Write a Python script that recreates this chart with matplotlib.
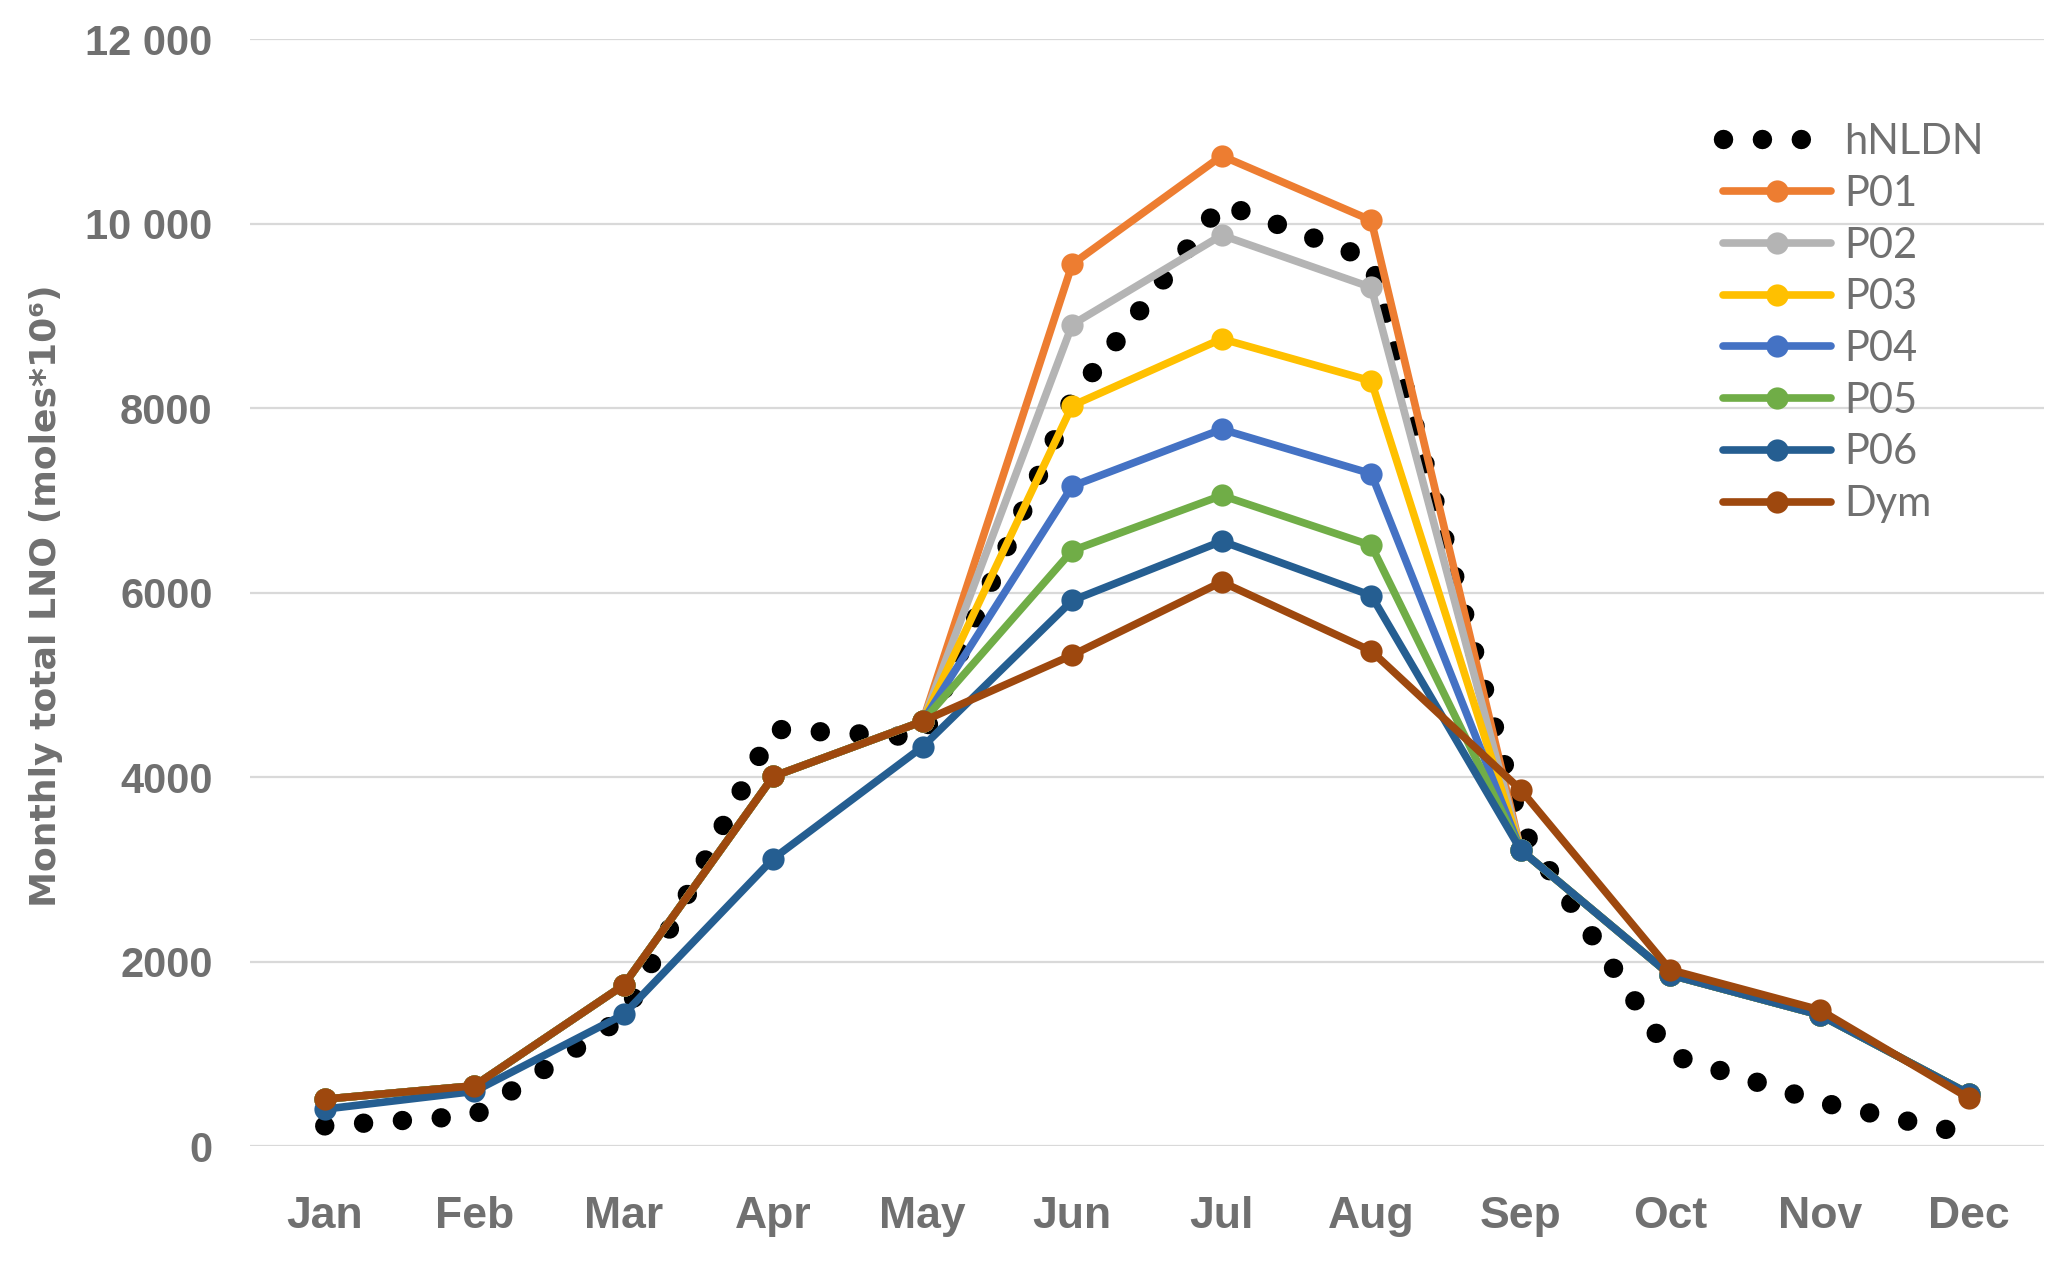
import matplotlib
matplotlib.use("Agg")
import matplotlib.pyplot as plt
from matplotlib import font_manager as fm

months = ['Jan', 'Feb', 'Mar', 'Apr', 'May', 'Jun', 'Jul', 'Aug', 'Sep', 'Oct', 'Nov', 'Dec']
hNLDN = [218, 330, 1400, 4520, 4430, 8100, 10220, 9610, 3460, 990, 476, 125]
P01 = [508, 653, 1745, 4007, 4605, 9562, 10736, 10037, 3210, 1855, 1421, 564]
P02 = [508, 653, 1745, 4007, 4605, 8907, 9876, 9310, 3210, 1855, 1421, 564]
P03 = [508, 653, 1745, 4007, 4605, 8028, 8752, 8295, 3210, 1855, 1421, 564]
P04 = [508, 653, 1745, 4007, 4605, 7155, 7771, 7290, 3210, 1855, 1421, 564]
P05 = [508, 653, 1745, 4007, 4605, 6456, 7054, 6512, 3210, 1855, 1421, 564]
P06 = [400, 592, 1427, 3116, 4330, 5915, 6558, 5969, 3210, 1855, 1421, 564]
Dym = [508, 653, 1745, 4007, 4605, 5323, 6116, 5368, 3862, 1910, 1476, 517]

yticks = [0, 2000, 4000, 6000, 8000, 10000, 12000]
ytick_labels = ['0', '2000', '4000', '6000', '8000', '10 000', '12 000']

series = [('P01', P01, '#ED7D31'), ('P02', P02, '#B4B4B4'), ('P03', P03, '#FFC000'),
          ('P04', P04, '#4472C4'), ('P05', P05, '#70AD47'), ('P06', P06, '#255E91'),
          ('Dym', Dym, '#9E480E')]

installed = {f.name for f in fm.fontManager.ttflist}
tick_font = 'Liberation Sans Narrow' if 'Liberation Sans Narrow' in installed else 'Liberation Sans'
legend_font = 'Lato' if 'Lato' in installed else 'DejaVu Sans'
text_gray = '#707070'

W, H = 2067, 1270
fig = plt.figure(figsize=(W / 100, H / 100), dpi=100)
left, right, top, bottom = 250, 2044, 39.3, 1146
ax = fig.add_axes([left / W, 1 - bottom / H, (right - left) / W, (bottom - top) / H])

x = list(range(len(months)))
ax.plot(x, hNLDN, color='black', lw=14, linestyle=(0, (0.001, 2.0)),
        dash_capstyle='round', label='hNLDN', zorder=2)
for name, vals, col in series:
    ax.plot(x, vals, color=col, lw=5.5, marker='o', markersize=16,
            markeredgewidth=0, label=name, zorder=3, solid_capstyle='round',
            solid_joinstyle='round')

ax.set_xlim(-0.5, 11.5)
ax.set_ylim(0, 12000)
ax.set_yticks(yticks)
ax.set_yticklabels(ytick_labels)
ax.set_xticks(x)
ax.set_xticklabels(months)
for s in ax.spines.values():
    s.set_visible(False)
ax.yaxis.grid(True, color='#d9d9d9', lw=1.6)
ax.set_axisbelow(True)
ax.tick_params(axis='both', length=0)
ax.tick_params(axis='y', pad=27)
ax.tick_params(axis='x', pad=36)
for lab in ax.get_yticklabels():
    lab.set_fontfamily(tick_font); lab.set_fontweight('bold'); lab.set_fontsize(30); lab.set_color(text_gray)
for lab in ax.get_xticklabels():
    lab.set_fontfamily(tick_font); lab.set_fontweight('bold'); lab.set_fontsize(32); lab.set_color(text_gray)

fig.text(46 / W, 1 - 596 / H, 'Monthly total LNO (moles*10\u2076)', rotation=90,
         ha='center', va='center', fontsize=26, fontweight='bold',
         family='DejaVu Sans', color=text_gray)

leg = ax.legend(loc='upper left', bbox_to_anchor=(1723 / W, 1 - 123 / H),
                bbox_transform=fig.transFigure, frameon=False,
                prop={'family': legend_font, 'size': 30},
                handlelength=2.6, handletextpad=0.3, labelspacing=0.33,
                borderpad=0, borderaxespad=0)
for t in leg.get_texts():
    t.set_color(text_gray)

fig.savefig('out.png', dpi=100, facecolor='white')
